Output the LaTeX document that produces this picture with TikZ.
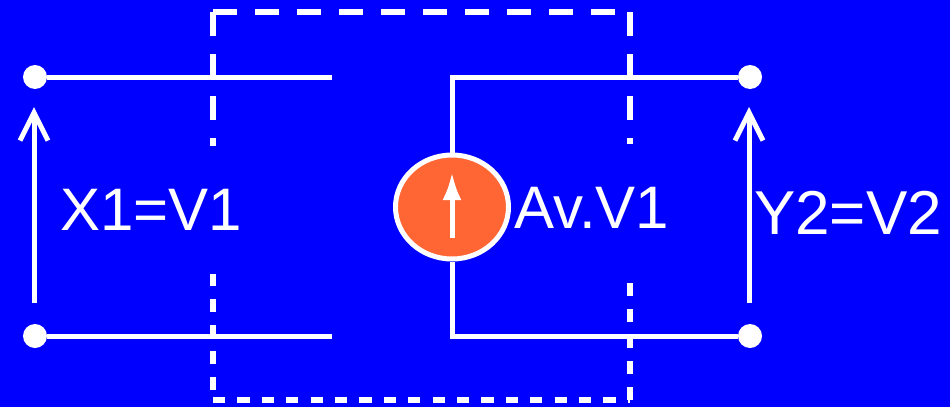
\documentclass[tikz,border=0pt]{standalone}
\usepackage{fontspec}
\setmainfont{Liberation Sans}
\usepackage{tikz}
\usetikzlibrary{arrows.meta,shapes.geometric,positioning}
\definecolor{ckblue}{RGB}{0,0,255}
\definecolor{ckorange}{RGB}{255,102,51}
\tikzstyle{wire} = [line width=5pt, color=white]
\tikzstyle{frame} = [line width=5.5pt, color=white]
\tikzstyle{terminal} = [circle, fill=white, inner sep=0pt, minimum size=24pt]
\tikzstyle{csource} = [ellipse, minimum width=113pt, minimum height=104pt, inner sep=0pt, draw=white, line width=5pt, fill=ckorange]
\tikzstyle{voltlabel} = [text=white, fill=ckblue, font=\fontsize{60}{72}\selectfont, minimum height=128pt, inner sep=20pt]
\tikzstyle{varrow} = [line width=5pt, color=white, -{Straight Barb[length=28pt,width=28pt]}]

\begin{document}
\begin{tikzpicture}[x=1pt,y=-1pt]
\useasboundingbox (0,0) rectangle (950,407);
\fill[ckblue] (0,0) rectangle (950,407);
% dashed box
\coordinate (fTL) at (213,12);
\coordinate (fTR) at (630,12);
\coordinate (fML) at (213,206);
\coordinate (fMR) at (630,206);
\coordinate (fBL) at (213,400);
\coordinate (fBR) at (630,400);
\draw[frame, dash pattern=on 24pt off 18pt] (fTL) -- (fTR);
\draw[frame, dash pattern=on 24pt off 18pt] (fTL) -- (fML);
\draw[frame, dash pattern=on 24pt off 18pt] (fTR) -- (fMR);
\draw[frame, dash pattern=on 12.2pt off 12.2pt] (fBL) -- (fBR);
\draw[frame, dash pattern=on 13pt off 13pt, dash phase=16pt] (fBL) -- (fML);
\draw[frame, dash pattern=on 13pt off 13pt] (fBR) -- (fMR);
% labels
\node[voltlabel] (vin) at (151,210) {X1=V1};
\node[voltlabel] (gain) at (592,208) {Av.V1};
\node[voltlabel, inner xsep=2pt, font=\fontsize{62}{74}\selectfont] (vout) at (848,213) {Y2=V2};
% terminals and source
\node[terminal] (inA) at (35,77) {};
\node[terminal] (inB) at (35,336) {};
\node[terminal] (outA) at (750,77) {};
\node[terminal] (outB) at (750,336) {};
\node[csource] (src) at (452,207) {};
\coordinate (cutA) at (332,77);
\coordinate (cutB) at (332,336);
\coordinate (topR) at (452,77);
\coordinate (botR) at (452,336);
\draw[wire] (inA) -- (cutA);
\draw[wire] (inB) -- (cutB);
\draw[wire] (src) -- (topR) -- (outA);
\draw[wire] (src) -- (botR) -- (outB);
% arrows
\coordinate (srcB) at (452,238);
\coordinate (srcT) at (452,172);
\draw[wire, -{Latex[length=28pt,width=19pt]}] (srcB) -- (srcT);
\coordinate (vinB) at (34,303);
\coordinate (vinT) at (34,107);
\coordinate (voutB) at (749,303);
\coordinate (voutT) at (749,107);
\draw[varrow] (vinB) -- (vinT);
\draw[varrow] (voutB) -- (voutT);
\end{tikzpicture}
\end{document}
